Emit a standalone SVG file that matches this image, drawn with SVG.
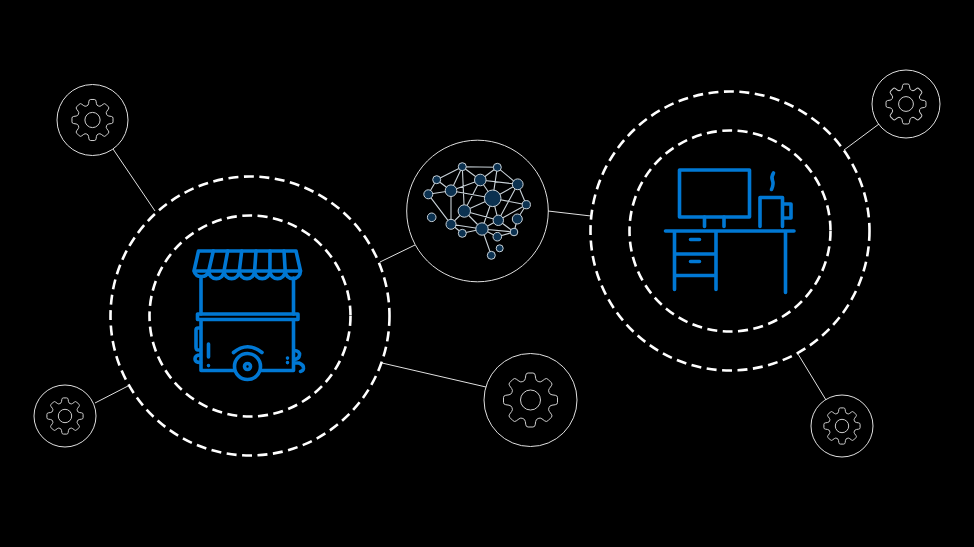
<svg xmlns="http://www.w3.org/2000/svg" xmlns:xlink="http://www.w3.org/1999/xlink" width="974" height="547" viewBox="0 0 974 547">
<style>
.ring{fill:none;stroke:#fff;stroke-width:2.6;stroke-dasharray:10 5.5}
.thin{fill:none;stroke:#e0e0e0;stroke-width:1}
.conn{stroke:#e0e0e0;stroke-width:1;fill:none}
.gear{fill:none;stroke:#cfcfcf;stroke-width:1;vector-effect:non-scaling-stroke;stroke-linejoin:round}
.ic{fill:none;stroke:#0078d4;stroke-width:3.6;stroke-linecap:round;stroke-linejoin:round}
.bl{stroke:#c9d2d8;stroke-width:1.1;fill:none}
.bn{fill:#0b3150;stroke:#c9d2d8;stroke-width:1}
</style>
<defs>
<path id="tooth" class="gear" d="M-7.65-18.48Q-5.4-19.3-5.2-21.500L-4.700-24.800Q-4.400-27-2.400-27H2.400Q4.400-27 4.700-24.800L5.200-21.500Q5.400-19.300 7.650-18.480"/>
<g id="gearShape">
<use xlink:href="#tooth" href="#tooth"/>
<use xlink:href="#tooth" href="#tooth" transform="rotate(45)"/>
<use xlink:href="#tooth" href="#tooth" transform="rotate(90)"/>
<use xlink:href="#tooth" href="#tooth" transform="rotate(135)"/>
<use xlink:href="#tooth" href="#tooth" transform="rotate(180)"/>
<use xlink:href="#tooth" href="#tooth" transform="rotate(225)"/>
<use xlink:href="#tooth" href="#tooth" transform="rotate(270)"/>
<use xlink:href="#tooth" href="#tooth" transform="rotate(315)"/>
<circle class="gear" r="10"/>
</g>
</defs>
<rect width="974" height="547" fill="#000"/>
<g id="connectors">
<line class="conn" x1="113" y1="149" x2="155" y2="211"/>
<line class="conn" x1="95" y1="403" x2="128" y2="386"/>
<line class="conn" x1="380" y1="262" x2="415" y2="245"/>
<line class="conn" x1="382" y1="363" x2="486" y2="387"/>
<line class="conn" x1="548" y1="211" x2="591" y2="216"/>
<line class="conn" x1="844" y1="150" x2="879" y2="124"/>
<line class="conn" x1="798" y1="354" x2="826" y2="400"/>
</g>
<g id="node-cart">
<circle class="ring" cx="250" cy="316" r="139.5"/>
<circle class="ring" cx="250" cy="316" r="100.5"/>
<g class="ic">
<path d="M198.500 251H296L300.500 271A7.650 7.650 0 0 1 285.200 271A7.650 7.650 0 0 1 269.900 271A7.650 7.650 0 0 1 254.600 271A7.650 7.650 0 0 1 239.300 271A7.650 7.650 0 0 1 224 271A7.650 7.650 0 0 1 208.700 271A7.650 7.650 0 0 1 194 271Z"/>
<path d="M194.500 271H300.500M213.300 251L208.700 271M227.700 251L224 271M241.700 251L239.300 271M256 251L254.600 271M270 251L269.900 271M284 251L285.200 271"/>
<path d="M201 278V314M293.500 278V314"/>
<rect x="197.500" y="314" width="100.500" height="5.500"/>
<path d="M201 320V370.500H234M261.500 370.500H293.500V320"/>
<path d="M200.500 328H198Q196 328 196 330V347Q196 350 198 350H200.500"/>
<path d="M200.500 355Q195 355 195 359Q195 362.500 200.500 362.500"/>
<path d="M208.500 344V357M208.500 365.500V365.600M287.500 358V358.100M287.500 362.500V362.600"/>
<circle cx="247.500" cy="366.500" r="13"/>
<circle cx="247.500" cy="366.500" r="3"/>
<path d="M233.500 352.500Q247.500 341 262 352.500"/>
<path d="M294 350.500Q300 351 299.500 355Q299 359 294 359.500M294 363H299Q304 365 303.500 368.500Q303 371 300.500 371.500"/>
</g>
</g>
<g id="node-desk">
<circle class="ring" cx="730" cy="231" r="139.500"/>
<circle class="ring" cx="730" cy="231" r="100.500"/>
<g class="ic">
<rect x="679.500" y="170" width="70" height="47"/>
<path d="M704.500 217V226.500M724 217V226.500"/>
<path d="M665.500 231H794M785.500 231V292.500M674.500 231V289.500M716 231V289.500M674.500 254H716M674.500 275.500H716M690.500 239.500H699.500M690.500 261.500H699.500"/>
<path d="M760 226.500V197.500H782.500V226.500M782.500 204H791V218H782.500"/>
<path d="M773.500 173Q771 177 772.500 180.500Q774 184 771.500 189.500"/>
</g>
</g>
<g id="node-brain">
<circle class="thin" cx="477.500" cy="211" r="70.800"/>
<path class="bl" d="M462.300 166.700L497.300 167.300M462.300 166.700L436.700 179.700M462.300 166.700L480.300 180M462.300 166.700L451 190.700M462.300 166.700L464.300 211M497.300 167.300L480.300 180M497.300 167.300L492.700 198.300M497.300 167.300L517.700 184.300M436.700 179.700L451 190.700M436.700 179.700L428.300 194.300M480.300 180L451 190.700M480.300 180L517.700 184.300M480.300 180L464.300 211M480.300 180L492.700 198.300M517.700 184.300L492.700 198.300M517.700 184.300L526.300 204.700M517.700 184.300L498.300 220.300M451 190.700L428.300 194.300M451 190.700L492.700 198.300M451 190.700L451 224.300M428.300 194.300L451 224.300M464.300 211L451 224.300M464.300 211L492.700 198.300M464.300 211L498.300 220.300M464.300 211L482 229M492.700 198.300L498.300 220.300M492.700 198.300L526.300 204.700M492.700 198.300L482 229M526.300 204.700L498.300 220.300M526.300 204.700L517.300 219M498.300 220.300L514 232M517.300 219L514 232M498.300 220.300L482 229M451 224.300L482 229M451 224.300L462.300 233.300M462.300 233.300L482 229M482 229L514 232M482 229L497.300 236.700M482 229L491.300 255.300M497.300 236.700L514 232"/>
<g class="bn">
<circle cx="462.300" cy="166.700" r="4"/><circle cx="497.300" cy="167.300" r="4"/><circle cx="436.700" cy="179.700" r="4"/><circle cx="480.300" cy="180" r="5.800"/><circle cx="517.700" cy="184.300" r="5.400"/><circle cx="451" cy="190.700" r="5.800"/><circle cx="428.300" cy="194.300" r="4.500"/><circle cx="492.700" cy="198.300" r="8.300"/><circle cx="526.300" cy="204.700" r="4.100"/><circle cx="464.300" cy="211" r="6.200"/><circle cx="431.700" cy="217.300" r="4.300"/><circle cx="498.300" cy="220.300" r="5.200"/><circle cx="517.300" cy="219" r="5"/><circle cx="451" cy="224.300" r="5"/><circle cx="482" cy="229" r="6.200"/><circle cx="462.300" cy="233.300" r="4"/><circle cx="514" cy="232" r="3.800"/><circle cx="497.300" cy="236.700" r="4.300"/><circle cx="499.700" cy="248.300" r="3.500"/><circle cx="491.300" cy="255.300" r="4"/>
</g>
</g>
<g id="node-gear-big"><circle class="thin" cx="530.500" cy="400" r="46.500"/><use xlink:href="#gearShape" href="#gearShape" transform="translate(530.500 400)"/></g>
<g id="node-gear-tl"><circle class="thin" cx="92.500" cy="120" r="35.500"/><use xlink:href="#gearShape" href="#gearShape" transform="translate(92.500 120) scale(.76)"/></g>
<g id="node-gear-bl"><circle class="thin" cx="65" cy="416" r="31"/><use xlink:href="#gearShape" href="#gearShape" transform="translate(65 416) scale(.67)"/></g>
<g id="node-gear-tr"><circle class="thin" cx="906" cy="104" r="34"/><use xlink:href="#gearShape" href="#gearShape" transform="translate(906 104) scale(.74)"/></g>
<g id="node-gear-br"><circle class="thin" cx="842" cy="426" r="31"/><use xlink:href="#gearShape" href="#gearShape" transform="translate(842 426) scale(.67)"/></g>
</svg>
